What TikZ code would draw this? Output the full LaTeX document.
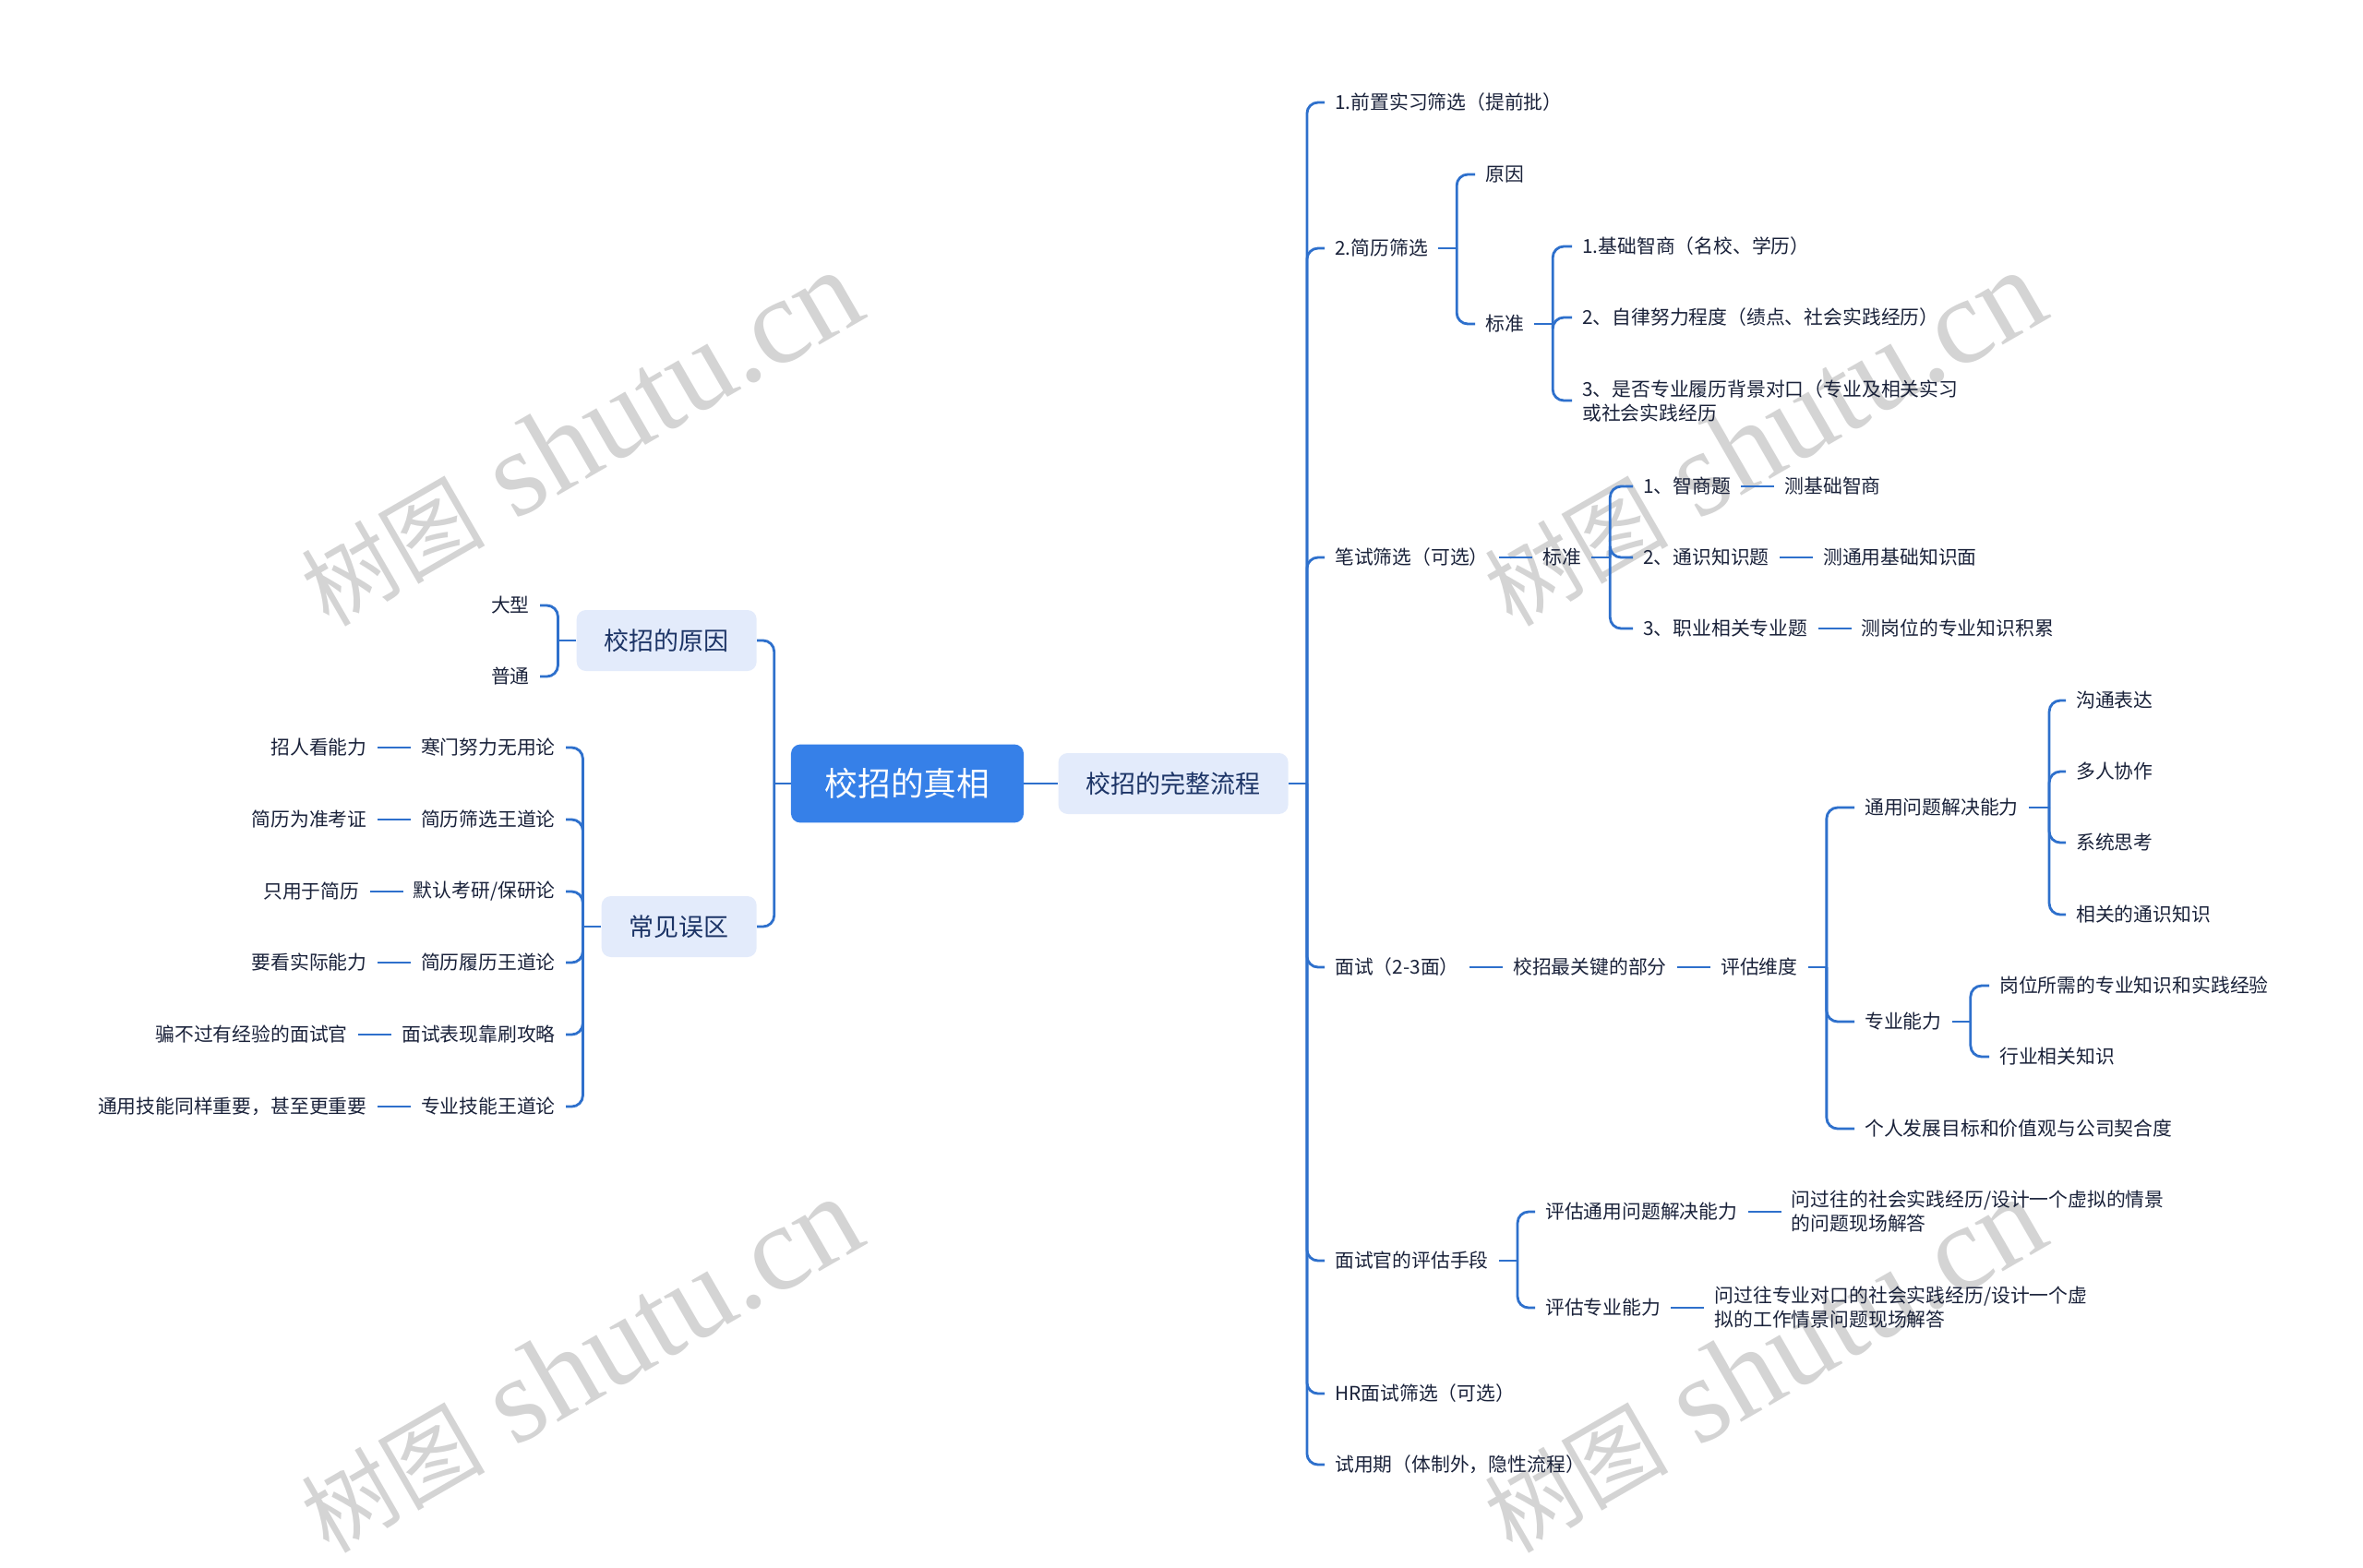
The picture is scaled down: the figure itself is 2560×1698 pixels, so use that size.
\documentclass[tikz,border=0pt]{standalone}
\usepackage{fontspec}
\setmainfont{Noto Sans CJK SC}
\newfontfamily\wmfont{Liberation Serif}
\newfontfamily\wmcjk{Noto Sans CJK SC}
\usetikzlibrary{positioning}

\definecolor{linecol}{RGB}{46,112,204}
\definecolor{rootfill}{RGB}{54,128,232}
\definecolor{boxfill}{RGB}{227,235,251}
\definecolor{boxtext}{RGB}{28,52,102}
\definecolor{leaftext}{RGB}{26,34,58}
\definecolor{wmgray}{RGB}{212,212,212}

\tikzset{
    leaf/.style={font=\fontsize{14.8}{18.5}\selectfont, text=leaftext, inner xsep=0.275cm, inner ysep=0.1cm, align=left},
    topic/.style={fill=boxfill, text=boxtext, rounded corners=0.25cm, inner xsep=0.75cm, minimum height=1.65cm, font=\fontsize{19.2}{23}\selectfont},
    rootbox/.style={fill=rootfill, text=white, rounded corners=0.25cm, minimum width=6.3cm, minimum height=2.12cm, font=\fontsize{25.4}{30}\selectfont},
    link/.style={draw=linecol, line width=2pt},
    elbow/.style={link, rounded corners=0.3cm},
    wmark/.style={text=wmgray, rotate=30, anchor=base west, font=\wmfont\fontsize{94}{94}\selectfont},
}

\begin{document}
\begin{tikzpicture}[x=0.025cm, y=-0.025cm, node distance=0.9cm]
            \useasboundingbox (0,0) rectangle (2560,1698);

            % watermark
            \node[wmark] (wm1) at (352,683) {{\wmcjk\fontsize{71}{71}\selectfont 树图} shutu.cn};
            \node[wmark] (wm2) at (1634,683) {{\wmcjk\fontsize{71}{71}\selectfont 树图} shutu.cn};
            \node[wmark] (wm3) at (352,1687) {{\wmcjk\fontsize{71}{71}\selectfont 树图} shutu.cn};
            \node[wmark] (wm4) at (1634,1687) {{\wmcjk\fontsize{71}{71}\selectfont 树图} shutu.cn};

            \node[rootbox] (root) at (983,849) {校招的真相};
            \node[topic, right=0.925cm of root] (flow) {校招的完整流程};
            \node[topic, anchor=east] (reason) at (820,694) {校招的原因};
            \node[topic, anchor=east] (myth) at (820,1004) {常见误区};

            % right side
            \node[leaf, anchor=west] (p1) at (1435,111) {1.前置实习筛选（提前批）};
            \node[leaf, anchor=west] (p2) at (1435,269) {2.简历筛选};
            \node[leaf, anchor=west] (p2a) at (1598,189) {原因};
            \node[leaf, anchor=west] (p2b) at (1598,351) {标准};
            \node[leaf, anchor=west] (p2b1) at (1703,267) {1.基础智商（名校、学历）};
            \node[leaf, anchor=west] (p2b2) at (1703,344) {2、自律努力程度（绩点、社会实践经历）};
            \node[leaf, anchor=west] (p2b3) at (1703,434) {3、是否专业履历背景对口（专业及相关实习\\或社会实践经历};

            \node[leaf, anchor=west] (p3) at (1435,604) {笔试筛选（可选）};
            \node[leaf, right=of p3] (p3a) {标准};
            \node[leaf, anchor=west] (p3a1) at (1769,527) {1、智商题};
            \node[leaf, anchor=west] (p3a2) at (1769,604) {2、通识知识题};
            \node[leaf, anchor=west] (p3a3) at (1769,681) {3、职业相关专业题};
            \node[leaf, right=of p3a1] (p3b1) {测基础智商};
            \node[leaf, right=of p3a2] (p3b2) {测通用基础知识面};
            \node[leaf, right=of p3a3] (p3b3) {测岗位的专业知识积累};

            \node[leaf, anchor=west] (p4) at (1435,1048) {面试（2-3面）};
            \node[leaf, right=of p4] (p4a) {校招最关键的部分};
            \node[leaf, right=of p4a] (p4b) {评估维度};
            \node[leaf, anchor=west] (p4b1) at (2009,875) {通用问题解决能力};
            \node[leaf, anchor=west] (p4b2) at (2009,1107) {专业能力};
            \node[leaf, anchor=west] (p4b3) at (2009,1223) {个人发展目标和价值观与公司契合度};
            \node[leaf, anchor=west] (q1) at (2238,759) {沟通表达};
            \node[leaf, anchor=west] (q2) at (2238,836) {多人协作};
            \node[leaf, anchor=west] (q3) at (2238,913) {系统思考};
            \node[leaf, anchor=west] (q4) at (2238,991) {相关的通识知识};
            \node[leaf, anchor=west] (r1) at (2155,1068) {岗位所需的专业知识和实践经验};
            \node[leaf, anchor=west] (r2) at (2155,1145) {行业相关知识};

            \node[leaf, anchor=west] (p5) at (1435,1366) {面试官的评估手段};
            \node[leaf, anchor=west] (p5a) at (1663,1313) {评估通用问题解决能力};
            \node[leaf, anchor=west] (p5b) at (1663,1417) {评估专业能力};
            \node[leaf, right=of p5a] (p5c) {问过往的社会实践经历/设计一个虚拟的情景\\的问题现场解答};
            \node[leaf, right=of p5b] (p5d) {问过往专业对口的社会实践经历/设计一个虚\\拟的工作情景问题现场解答};

            \node[leaf, anchor=west] (p6) at (1435,1510) {HR面试筛选（可选）};
            \node[leaf, anchor=west] (p7) at (1435,1587) {试用期（体制外，隐性流程）};

            % left side
            \node[leaf, anchor=east] (big) at (585,656) {大型};
            \node[leaf, anchor=east] (plain) at (585,733) {普通};
            \node[leaf, anchor=east] (m1) at (613,810) {寒门努力无用论};
            \node[leaf, anchor=east] (m2) at (613,888) {简历筛选王道论};
            \node[leaf, anchor=east] (m3) at (613,966) {默认考研/保研论};
            \node[leaf, anchor=east] (m4) at (613,1043) {简历履历王道论};
            \node[leaf, anchor=east] (m5) at (613,1121) {面试表现靠刷攻略};
            \node[leaf, anchor=east] (m6) at (613,1199) {专业技能王道论};
            \node[leaf, left=of m1] (n1) {招人看能力};
            \node[leaf, left=of m2] (n2) {简历为准考证};
            \node[leaf, left=of m3] (n3) {只用于简历};
            \node[leaf, left=of m4] (n4) {要看实际能力};
            \node[leaf, left=of m5] (n5) {骗不过有经验的面试官};
            \node[leaf, left=of m6] (n6) {通用技能同样重要，甚至更重要};

            % connectors
            \draw[link] (root.east) -- (flow.west);
            \draw[link] (root.west) -- ++(-0.45cm,0) coordinate (rootf);
            \foreach \c in {reason,myth} \draw[elbow] (rootf) |- (\c.east);
            \draw[link] (reason.west) -- ++(-0.5cm,0) coordinate (reasonf);
            \foreach \c in {big,plain} \draw[elbow] (reasonf) |- (\c.east);
            \draw[link] (myth.west) -- ++(-0.5cm,0) coordinate (mythf);
            \foreach \c in {m1,m2,m3,m4,m5,m6} \draw[elbow] (mythf) |- (\c.east);
            \foreach \i in {1,...,6} \draw[link] (m\i.west) -- (n\i.east);

            \draw[link] (flow.east) -- ++(0.5cm,0) coordinate (flowf);
            \foreach \c in {p1,p2,p3,p4,p5,p6,p7} \draw[elbow] (flowf) |- (\c.west);
            \draw[link] (p2.east) -- ++(0.5cm,0) coordinate (p2f);
            \foreach \c in {p2a,p2b} \draw[elbow] (p2f) |- (\c.west);
            \draw[link] (p2b.east) -- ++(0.5cm,0) coordinate (p2bf);
            \foreach \c in {p2b1,p2b2,p2b3} \draw[elbow] (p2bf) |- (\c.west);
            \draw[link] (p3.east) -- (p3a.west);
            \draw[link] (p3a.east) -- ++(0.5cm,0) coordinate (p3af);
            \foreach \c in {p3a1,p3a2,p3a3} \draw[elbow] (p3af) |- (\c.west);
            \foreach \i in {1,2,3} \draw[link] (p3a\i.east) -- (p3b\i.west);
            \draw[link] (p4.east) -- (p4a.west);
            \draw[link] (p4a.east) -- (p4b.west);
            \draw[link] (p4b.east) -- ++(0.5cm,0) coordinate (p4bf);
            \foreach \c in {p4b1,p4b2,p4b3} \draw[elbow] (p4bf) |- (\c.west);
            \draw[link] (p4b1.east) -- ++(0.55cm,0) coordinate (p4b1f);
            \foreach \c in {q1,q2,q3,q4} \draw[elbow] (p4b1f) |- (\c.west);
            \draw[link] (p4b2.east) -- ++(0.5cm,0) coordinate (p4b2f);
            \foreach \c in {r1,r2} \draw[elbow] (p4b2f) |- (\c.west);
            \draw[link] (p5.east) -- ++(0.5cm,0) coordinate (p5f);
            \foreach \c in {p5a,p5b} \draw[elbow] (p5f) |- (\c.west);
            \draw[link] (p5a.east) -- (p5c.west);
            \draw[link] (p5b.east) -- (p5d.west);
\end{tikzpicture}
\end{document}
